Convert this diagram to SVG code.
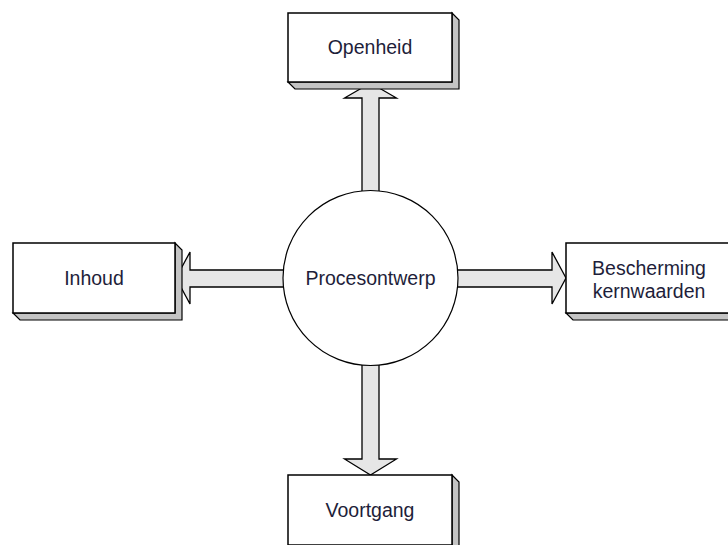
<svg xmlns="http://www.w3.org/2000/svg" width="728" height="545" viewBox="0 0 728 545">
  <style>
    .face { fill: #ffffff; stroke: #000000; stroke-width: 1.5; }
    .side { fill: #c4c4c4; stroke: #000000; stroke-width: 1.2; stroke-linejoin: miter; }
    .arrow { fill: #e6e6e6; stroke: #000000; stroke-width: 1.3; stroke-linejoin: miter; }
    .hub { fill: #ffffff; stroke: #000000; stroke-width: 1.2; }
    .label { font-family: "Liberation Sans", Arial, sans-serif; font-size: 19.5px; fill: #1e1e3a; text-anchor: middle; }
  </style>

  <rect width="728" height="545" fill="#ffffff"/>

  <!-- block arrows radiating from the centre -->
  <g id="connectors">
    <!-- up to Openheid -->
    <polygon class="arrow" points="370.5,83 396.5,98 379,98 379,230 362,230 362,98 344.5,98"/>
    <!-- left to Inhoud -->
    <polygon class="arrow" points="176,278 190,252 190,270 320,270 320,287 190,287 190,304"/>
    <!-- right to Bescherming kernwaarden -->
    <polygon class="arrow" points="566,278 552,252 552,270 420,270 420,287 552,287 552,304"/>
    <!-- down to Voortgang -->
    <polygon class="arrow" points="370.5,475 396.5,459 379,459 379,320 362,320 362,459 344.5,459"/>
  </g>

  <!-- centre node -->
  <g id="procesontwerp">
    <circle class="hub" cx="370.5" cy="278" r="87.5"/>
    <text class="label" x="370.5" y="285">Procesontwerp</text>
  </g>

  <!-- raised boxes: shaded side drawn first, then the front face -->
  <g id="openheid">
    <polygon class="side" points="452,13 459,20 459,89 295,89 288,82 452,82"/>
    <rect class="face" x="288" y="13" width="164" height="69"/>
    <text class="label" x="370" y="54">Openheid</text>
  </g>

  <g id="inhoud">
    <polygon class="side" points="175,243 182,250 182,320 20,320 13,313 175,313"/>
    <rect class="face" x="13" y="243" width="162" height="70"/>
    <text class="label" x="94" y="285">Inhoud</text>
  </g>

  <g id="bescherming-kernwaarden">
    <polygon class="side" points="731,243 738,250 738,320 573,320 566,313 731,313"/>
    <rect class="face" x="566" y="243" width="165" height="70"/>
    <text class="label" x="649" y="275">Bescherming</text>
    <text class="label" x="649" y="298">kernwaarden</text>
  </g>

  <g id="voortgang">
    <polygon class="side" points="452,475 459,482 459,560 295,560 288,552 452,552"/>
    <rect class="face" x="288" y="475" width="164" height="70"/>
    <text class="label" x="370" y="517">Voortgang</text>
  </g>
</svg>
